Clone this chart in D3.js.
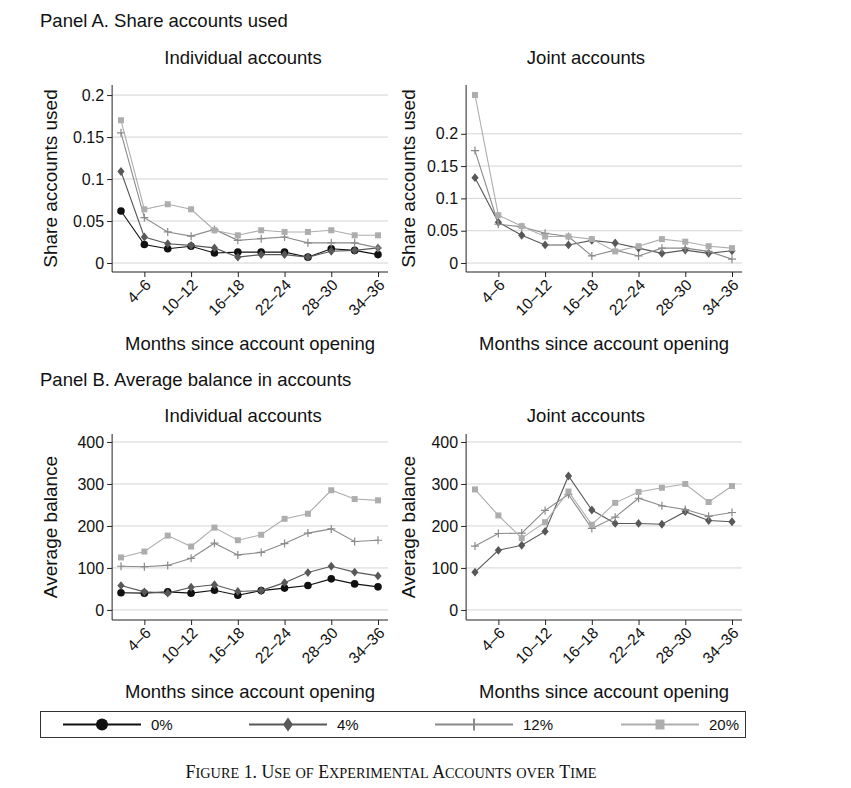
<!DOCTYPE html>
<html>
<head>
<meta charset="utf-8">
<script src="https://cdn.jsdelivr.net/npm/d3@7"></script>
<style>
  body { margin: 0; background: #fff; }
  text { font-family: "Liberation Sans", Arial, sans-serif; fill: #111; }
  .caption { font-family: "Liberation Serif", "DejaVu Serif", serif; }
</style>
</head>
<body>
<div id="chart"></div>
<script>
const width = 851;
const height = 788;

// 12 three-month periods; only every second one gets a tick label
const periods = ["1–3", "4–6", "7–9", "10–12", "13–15", "16–18",
  "19–21", "22–24", "25–27", "28–30", "31–33", "34–36"];
const labelledPeriods = ["4–6", "10–12", "16–18", "22–24", "28–30", "34–36"];

const seriesNames = ["0%", "4%", "12%", "20%"];
const seriesColors = ["#111111", "#585858", "#8a8a8a", "#adadad"];
const seriesSymbols = ["circle", "diamond", "plus", "square"];

// Panel A, individual accounts: share of accounts used
const shareInd0 = [0.062, 0.022, 0.017, 0.020, 0.012, 0.013, 0.013, 0.013, 0.007, 0.017, 0.015, 0.010];
const shareInd4 = [0.109, 0.031, 0.023, 0.021, 0.018, 0.007, 0.010, 0.010, 0.007, 0.014, 0.015, 0.018];
const shareInd12 = [0.155, 0.054, 0.037, 0.032, 0.040, 0.027, 0.029, 0.031, 0.024, 0.024, 0.024, 0.018];
const shareInd20 = [0.170, 0.064, 0.070, 0.064, 0.039, 0.033, 0.039, 0.037, 0.037, 0.039, 0.033, 0.033];

// Panel A, joint accounts (no 0% group)
const shareJoint4 = [0.132, 0.063, 0.043, 0.028, 0.028, 0.035, 0.031, 0.023, 0.015, 0.020, 0.015, 0.019];
const shareJoint12 = [0.174, 0.060, 0.056, 0.046, 0.041, 0.011, 0.020, 0.011, 0.023, 0.023, 0.018, 0.006];
const shareJoint20 = [0.260, 0.074, 0.057, 0.041, 0.041, 0.037, 0.018, 0.026, 0.037, 0.033, 0.026, 0.023];

// Panel B, individual accounts: average balance
const balInd0 = [41, 40, 43, 40, 47, 35, 46, 52, 58, 74, 62, 55];
const balInd4 = [58, 43, 40, 54, 60, 44, 46, 65, 89, 104, 90, 81];
const balInd12 = [104, 103, 106, 123, 159, 131, 137, 158, 183, 193, 163, 166];
const balInd20 = [125, 139, 177, 151, 196, 166, 179, 217, 229, 285, 264, 261];

// Panel B, joint accounts
const balJoint4 = [90, 142, 154, 187, 319, 238, 206, 206, 204, 234, 213, 210];
const balJoint12 = [152, 182, 183, 237, 275, 194, 221, 266, 248, 239, 223, 232];
const balJoint20 = [287, 225, 171, 209, 282, 203, 255, 281, 291, 300, 257, 295];

const shareIndTicks = [0, 0.05, 0.1, 0.15, 0.2];
const shareJointTicks = [0, 0.05, 0.1, 0.15, 0.2];
const balanceTicks = [0, 100, 200, 300, 400];

var svg = d3.select("#chart").append("svg")
  .attr("width", width)
  .attr("height", height);

// section headings
svg.append("text").attr("x", 40).attr("y", 27).style("font-size", "18.5px")
  .text("Panel A. Share accounts used");
svg.append("text").attr("x", 40).attr("y", 386).style("font-size", "18.5px")
  .text("Panel B. Average balance in accounts");

function fmtShare(d) {
  return d === 0 ? "0" : String(+d.toFixed(2));
}

function drawPanel(p) {
  var g = svg.append("g");

  var x = d3.scalePoint().domain(periods).range([p.x0, p.x1]);
  var step = x.step();
  var y = d3.scaleLinear().domain(p.yDomain).range([p.yBottom, p.yTop]);

  var axisLeft = p.x0 - step * 0.38;
  var axisRight = p.x1 + step * 0.43;
  var axisBottom = y(p.yDomain[0]);

  // title
  g.append("text")
    .attr("x", p.titleX)
    .attr("y", p.titleY)
    .attr("text-anchor", "middle")
    .style("font-size", "18.5px")
    .text(p.title);

  // gridlines
  g.selectAll(".grid").data(p.ticks).enter().append("line")
    .attr("x1", axisLeft).attr("x2", axisRight)
    .attr("y1", (d) => y(d)).attr("y2", (d) => y(d))
    .style("stroke", "#d4d4d4")
    .style("stroke-width", 1);

  // y axis
  var yAxis = g.append("g")
    .attr("transform", "translate(" + axisLeft + ",0)")
    .call(d3.axisLeft(y).tickValues(p.ticks).tickFormat(p.fmt).tickSize(5).tickPadding(3));
  yAxis.select(".domain").attr("d", "M0," + y(p.yDomain[1]) + "V" + axisBottom)
    .style("stroke", "#222");
  yAxis.selectAll(".tick line").style("stroke", "#222");
  yAxis.selectAll(".tick text").style("font-size", "16px").style("fill", "#111");

  // x axis
  var xAxis = g.append("g")
    .attr("transform", "translate(0," + axisBottom + ")")
    .call(d3.axisBottom(x).tickValues(labelledPeriods).tickSize(5).tickPadding(3));
  xAxis.select(".domain").attr("d", "M" + axisLeft + ",0H" + axisRight)
    .style("stroke", "#222");
  xAxis.selectAll(".tick line").style("stroke", "#222");
  xAxis.selectAll(".tick text")
    .style("font-size", "15.5px")
    .style("fill", "#111")
    .attr("text-anchor", "end")
    .attr("dy", null)
    .attr("y", 0)
    .attr("transform", "translate(7,14) rotate(-45)");

  // axis titles
  g.append("text")
    .attr("x", (axisLeft + axisRight) / 2)
    .attr("y", axisBottom + 78)
    .attr("text-anchor", "middle")
    .style("font-size", "18.5px")
    .text("Months since account opening");

  g.append("text")
    .attr("transform", "translate(" + (p.labelX) + "," + ((y(p.yDomain[1]) + axisBottom) / 2) + ") rotate(-90)")
    .attr("text-anchor", "middle")
    .style("font-size", "19px")
    .text(p.yLabel);

  // series
  var line = d3.line().x((d, i) => x(periods[i])).y((d) => y(d));

  p.series.forEach(function (s) {
    var k = seriesNames.indexOf(s.name);
    g.append("path")
      .datum(s.values)
      .attr("d", line)
      .style("fill", "none")
      .style("stroke", seriesColors[k])
      .style("stroke-width", 1.1);
    g.selectAll(null).data(s.values).enter().append("g")
      .attr("transform", (d, i) => "translate(" + x(periods[i]) + "," + y(d) + ")")
      .each(function () { drawSymbol(d3.select(this), seriesSymbols[k], seriesColors[k]); });
  });
}

function drawSymbol(sel, kind, color) {
  if (kind === "circle") {
    sel.append("circle").attr("r", 3.8).style("fill", color);
  } else if (kind === "diamond") {
    sel.append("path").attr("d", "M0,-4.4L3.6,0L0,4.4L-3.6,0Z").style("fill", color);
  } else if (kind === "square") {
    sel.append("rect").attr("x", -3).attr("y", -3).attr("width", 6).attr("height", 6).style("fill", color);
  } else {
    sel.append("path").attr("d", "M-4,0H4M0,-4V4").style("stroke", color).style("stroke-width", 1.2);
  }
}

drawPanel({
  title: "Individual accounts", titleX: 243, titleY: 64, x0: 121, x1: 378,
  yDomain: [-0.0107, 0.212], yBottom: 272, yTop: 85,
  ticks: shareIndTicks, fmt: fmtShare, yLabel: "Share accounts used", labelX: 57,
  series: [
    { name: "0%", values: shareInd0 },
    { name: "4%", values: shareInd4 },
    { name: "12%", values: shareInd12 },
    { name: "20%", values: shareInd20 }
  ]
});

drawPanel({
  title: "Joint accounts", titleX: 586, titleY: 64, x0: 475, x1: 732,
  yDomain: [-0.0139, 0.2755], yBottom: 272, yTop: 85,
  ticks: shareJointTicks, fmt: fmtShare, yLabel: "Share accounts used", labelX: 415,
  series: [
    { name: "4%", values: shareJoint4 },
    { name: "12%", values: shareJoint12 },
    { name: "20%", values: shareJoint20 }
  ]
});

drawPanel({
  title: "Individual accounts", titleX: 243, titleY: 422, x0: 121, x1: 378,
  yDomain: [-24, 419], yBottom: 620, yTop: 434,
  ticks: balanceTicks, fmt: d3.format("d"), yLabel: "Average balance", labelX: 57,
  series: [
    { name: "0%", values: balInd0 },
    { name: "4%", values: balInd4 },
    { name: "12%", values: balInd12 },
    { name: "20%", values: balInd20 }
  ]
});

drawPanel({
  title: "Joint accounts", titleX: 586, titleY: 422, x0: 475, x1: 732,
  yDomain: [-24, 419], yBottom: 620, yTop: 434,
  ticks: balanceTicks, fmt: d3.format("d"), yLabel: "Average balance", labelX: 415,
  series: [
    { name: "4%", values: balJoint4 },
    { name: "12%", values: balJoint12 },
    { name: "20%", values: balJoint20 }
  ]
});

// legend
var legend = svg.append("g");
legend.append("rect")
  .attr("x", 40.5).attr("y", 711.5).attr("width", 705).attr("height", 26)
  .style("fill", "none").style("stroke", "#333").style("stroke-width", 1);

var legendX = d3.scalePoint().domain(seriesNames).range([63, 621]);

var item = legend.selectAll(".item").data(seriesNames).enter().append("g")
  .attr("transform", (d) => "translate(" + legendX(d) + ",724.5)");
item.append("line")
  .attr("x1", 0).attr("x2", 78)
  .style("stroke", (d, i) => seriesColors[i])
  .style("stroke-width", 2);
item.append("g")
  .attr("transform", "translate(39,0)")
  .each(function (d, i) {
    var s = d3.select(this);
    if (seriesSymbols[i] === "circle") {
      s.append("circle").attr("r", 6).style("fill", seriesColors[i]);
    } else if (seriesSymbols[i] === "diamond") {
      s.append("path").attr("d", "M0,-7L5,0L0,7L-5,0Z").style("fill", seriesColors[i]);
    } else if (seriesSymbols[i] === "square") {
      s.append("rect").attr("x", -4.5).attr("y", -5).attr("width", 9).attr("height", 10).style("fill", seriesColors[i]);
    } else {
      s.append("path").attr("d", "M0,-6V6").style("stroke", seriesColors[i]).style("stroke-width", 2);
    }
  });
item.append("text")
  .attr("x", 88)
  .attr("y", 5.5)
  .style("font-size", "15px")
  .text((d) => d);

// caption, small caps built from runs of large and small capitals
var captionText = "Figure 1. Use of Experimental Accounts over Time";
var runs = [];
captionText.split("").forEach(function (c) {
  var small = c !== c.toUpperCase();
  var last = runs[runs.length - 1];
  if (last && last.small === small) last.t += c;
  else runs.push({ t: c, small: small });
});
svg.append("text")
  .attr("class", "caption")
  .attr("x", 391)
  .attr("y", 778)
  .attr("text-anchor", "middle")
  .selectAll("tspan").data(runs).enter().append("tspan")
  .style("font-size", (d) => d.small ? "14.3px" : "17.8px")
  .text((d) => d.t.toUpperCase());
</script>
</body>
</html>
